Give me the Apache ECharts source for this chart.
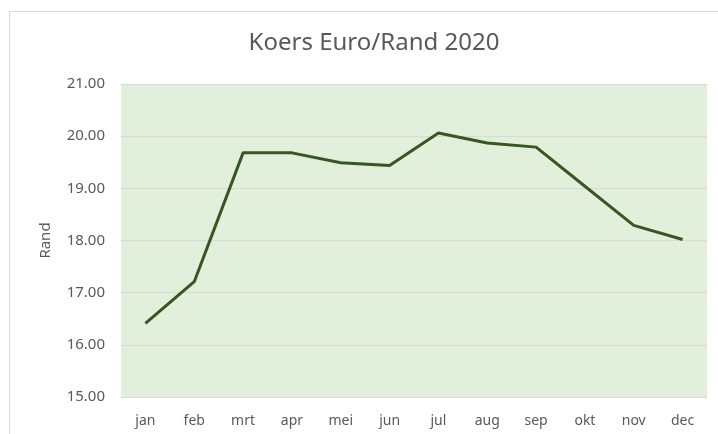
<!DOCTYPE html>
<html>
<head>
<meta charset="utf-8">
<script src="https://cdn.jsdelivr.net/npm/echarts@6/dist/echarts.min.js"></script>
<style>
  html, body { margin: 0; padding: 0; background: #fff; }
  #chart { width: 718px; height: 434px; }
</style>
</head>
<body>
<div id="chart"></div>
<script>
// maanden en koers
const months = ['jan', 'feb', 'mrt', 'apr', 'mei', 'jun', 'jul', 'aug', 'sep', 'okt', 'nov', 'dec'];
const rates = [16.41, 17.21, 19.68, 19.68, 19.49, 19.44, 20.06, 19.87, 19.79, 19.04, 18.29, 18.02];
const yTicks = [15, 16, 17, 18, 19, 20, 21];

let myChart = echarts.init(document.getElementById('chart'));
let option = {
  backgroundColor: '#fff',
  title: {
    text: 'Koers Euro/Rand 2020',
    left: 369,
    textAlign: 'center',
    top: 26,
    textStyle: { color: '#595959', fontSize: 24, fontWeight: 'normal', fontFamily: 'Noto Sans' }
  },
  graphic: [{
    type: 'rect',
    shape: { x: 9.5, y: 11.5, width: 720, height: 430 },
    style: { fill: 'none', stroke: '#d9d9d9', lineWidth: 1 },
    z: -10
  }],
  grid: {
    left: 121,
    right: 11,
    top: 84,
    bottom: 37,
    show: true,
    backgroundColor: '#e2efda',
    borderWidth: 0
  },
  xAxis: {
    type: 'category',
    data: months,
    boundaryGap: true,
    axisLine: { show: false },
    axisTick: { show: false },
    axisLabel: { color: '#595959', fontSize: 14, fontFamily: 'Noto Sans', margin: 17 }
  },
  yAxis: {
    type: 'value',
    min: yTicks[0],
    max: yTicks[yTicks.length - 1],
    interval: 1,
    name: 'Rand',
    nameLocation: 'middle',
    nameGap: 68,
    nameTextStyle: { color: '#595959', fontSize: 15, fontFamily: 'Noto Sans' },
    axisLine: { show: false },
    axisTick: { show: false },
    axisLabel: {
      color: '#595959', fontSize: 15, fontFamily: 'Noto Sans', margin: 16,
      formatter: v => v.toFixed(2)
    },
    splitLine: { lineStyle: { color: '#d9d9d9', width: 1 } }
  },
  series: [{
    type: 'line',
    data: rates,
    symbol: 'none',
    lineStyle: { color: '#375623', width: 3 },
    itemStyle: { color: '#375623' }
  }]
};
myChart.setOption(option);
window.addEventListener('resize', function () { myChart.resize(); }, false);
</script>
</body>
</html>
